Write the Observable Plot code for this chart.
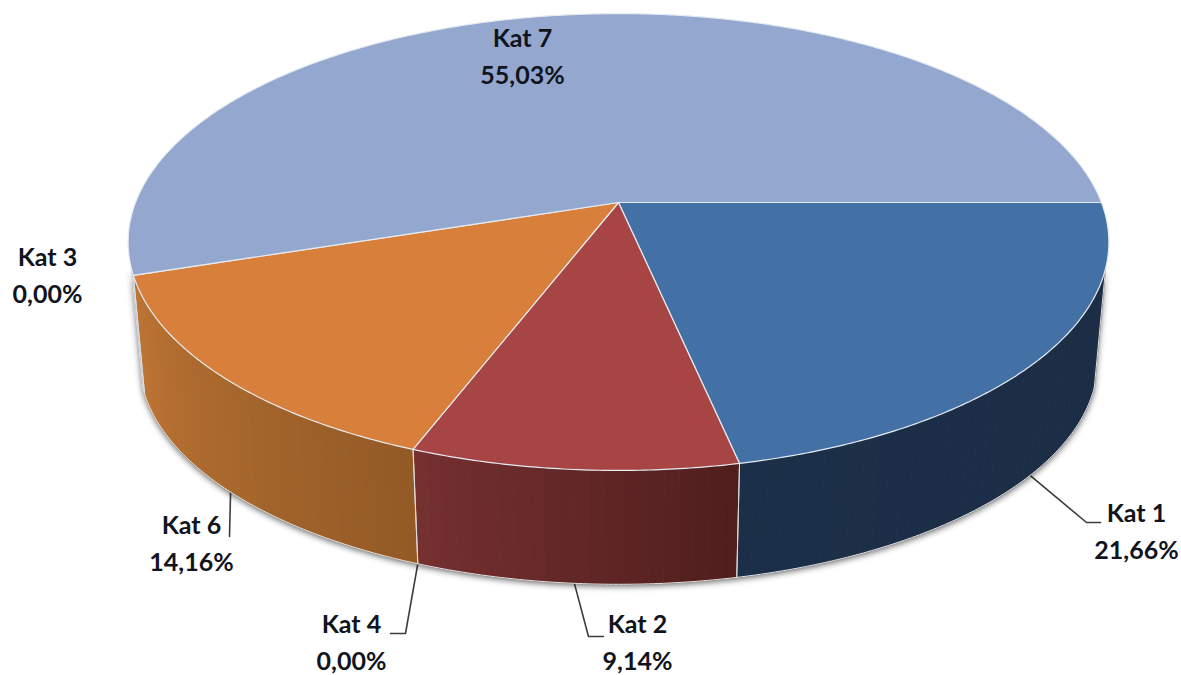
<!DOCTYPE html>
<html>
<head>
<meta charset="utf-8">
<script src="https://cdn.jsdelivr.net/npm/d3@7"></script>
<script src="https://cdn.jsdelivr.net/npm/@observablehq/plot@0.6"></script>
<style>html,body{margin:0;padding:0;background:#fff}svg{display:block}</style>
</head>
<body>
<div id="chart"></div>
<script>
// Data, in drawing order (clockwise from the east)
const categories = ["Kat 1", "Kat 2", "Kat 4", "Kat 6", "Kat 3", "Kat 7"];
const shares = [21.66, 9.14, 0, 14.16, 0, 55.03];

// Styles
const topColors = ["#4371a6", "#a64543", "#c0c0c0", "#d87f3b", "#c0c0c0", "#94a8cf"];
const wallFrom = ["#1c2f48", "#763030", "#000000", "#bf7534", "#000000", "#94a8cf"];
const wallTo = ["#1b2d45", "#4f1e1d", "#000000", "#935a26", "#000000", "#94a8cf"];

// Layout: label anchors and leader elbows, in page pixels
const labelX = [1136, 637, 351, 191, 47, 522];
const labelY = [528, 639, 639, 540, 272, 53];
const leaderVia = [[[1086, 522], [1100, 522]], [[588, 636], [603, 636]], [[405, 633], [390, 633]], [[229, 536]], null, null];

// Perspective disc
const W = 1181, H = 675;
const cx = 618, cy = 202, A = 483, B = 221.6, K = 0.173;
const depthScale = 0.977, bottomCy = 322, silhouette = 16.5;
const rad = d => d * Math.PI / 180;
function topPt(t) {
  const a = rad(t), d = 1 - K * Math.sin(a);
  return [cx + A * Math.cos(a) / d, cy + B * Math.sin(a) / d];
}
function botPt(t) {
  const [x, y] = topPt(t);
  return [cx + depthScale * (x - cx), bottomCy + depthScale * (y - cy)];
}
const steps = (t0, t1, dt = 0.5) => {
  const n = Math.max(1, Math.ceil(Math.abs(t1 - t0) / dt));
  return d3.range(n + 1).map(i => t0 + (t1 - t0) * i / n);
};

// Angles from the values
const total = d3.sum(shares);
let acc = 0;
const slices = categories.map((name, i) => {
  const t0 = acc / total * 360;
  acc += shares[i];
  const t1 = acc / total * 360;
  return {name, i, value: shares[i], t0, t1, mid: (t0 + t1) / 2};
});
const drawn = slices.filter(s => s.value > 0);

// Top faces
const topRows = drawn.flatMap(s => [[cx, cy], ...steps(s.t0, s.t1).map(topPt)]
  .map(([x, y]) => ({x, y, id: s.name, fill: topColors[s.i]})));

// Walls: narrow strips of the visible rim
const visible = drawn.map(s => ({...s, a: Math.max(s.t0, silhouette), b: Math.min(s.t1, 180 - silhouette)}))
  .filter(s => s.b > s.a);
const wallRows = visible.flatMap(s => {
  const ts = steps(s.a, s.b, 1.5);
  const col = d3.interpolateRgb(wallFrom[s.i], wallTo[s.i]);
  return ts.slice(1).flatMap((t, k) => {
    const t0 = ts[k], id = s.name + k;
    // the left of the picture is the larger angle, so the shade runs from end to start
    const fill = d3.rgb(col((s.b - (t + t0) / 2) / (s.b - s.a))).formatHex();
    return [topPt(t0), topPt(t), botPt(t), botPt(t0)].map(([x, y]) => ({x, y, id, fill}));
  });
});

// Whole rim silhouette, carries the soft shadow
const rim = [...steps(silhouette, 180 - silhouette).map(topPt), ...steps(180 - silhouette, silhouette).map(botPt)]
  .map(([x, y]) => ({x, y}));

// Light edges
const bottomEdge = steps(silhouette, 180 - silhouette).map(botPt).map(([x, y]) => ({x, y}));
const wallEdges = visible.flatMap(s => [s.a, s.b].map(t => [topPt(t), botPt(t)]))
  .flatMap((seg, j) => seg.map(([x, y]) => ({x, y, id: j})));

// Leaders start on the rim at each slice's middle angle
const leaderRows = slices.flatMap(s => leaderVia[s.i]
  ? [botPt(s.mid), ...leaderVia[s.i]].map(([x, y]) => ({x, y, id: s.name}))
  : []);

const labels = slices.map(s => ({
  x: labelX[s.i], y: labelY[s.i],
  text: `${s.name}\n${s.value.toFixed(2).replace(".", ",")}%`
}));

const chart = Plot.plot({
  width: W, height: H, margin: 0,
  x: {domain: [0, W], range: [0, W], axis: null},
  y: {domain: [0, H], range: [0, H], axis: null},
  color: {type: "identity"},
  marks: [
    Plot.line(leaderRows, {x: "x", y: "y", z: "id", stroke: "#3c3c3c", strokeWidth: 1.6, curve: "linear"}),
    Plot.line(rim, {x: "x", y: "y", fill: "#777", stroke: "none", curve: "linear-closed",
      imageFilter: "drop-shadow(0px 2px 3px rgba(0,0,0,0.6))"}),
    Plot.line(wallRows, {x: "x", y: "y", z: "id", fill: "fill", stroke: "fill", strokeWidth: 0.7, curve: "linear-closed"}),
    Plot.line(bottomEdge, {x: "x", y: "y", stroke: "#e4e4e4", strokeWidth: 1, curve: "linear"}),
    Plot.line(wallEdges, {x: "x", y: "y", z: "id", stroke: "#dcdcdc", strokeWidth: 1, curve: "linear"}),
    Plot.line(topRows, {x: "x", y: "y", z: "id", fill: "fill", stroke: "#e6ebf2", strokeWidth: 1.2, curve: "linear-closed", strokeLinejoin: "round"}),
    Plot.text(labels, {x: "x", y: "y", text: "text", fontFamily: "Lato", fontWeight: 700, fontSize: 25,
      lineHeight: 1.5, fill: "#11141d", textAnchor: "middle"})
  ]
});
document.getElementById("chart").append(chart);
</script>
</body>
</html>
